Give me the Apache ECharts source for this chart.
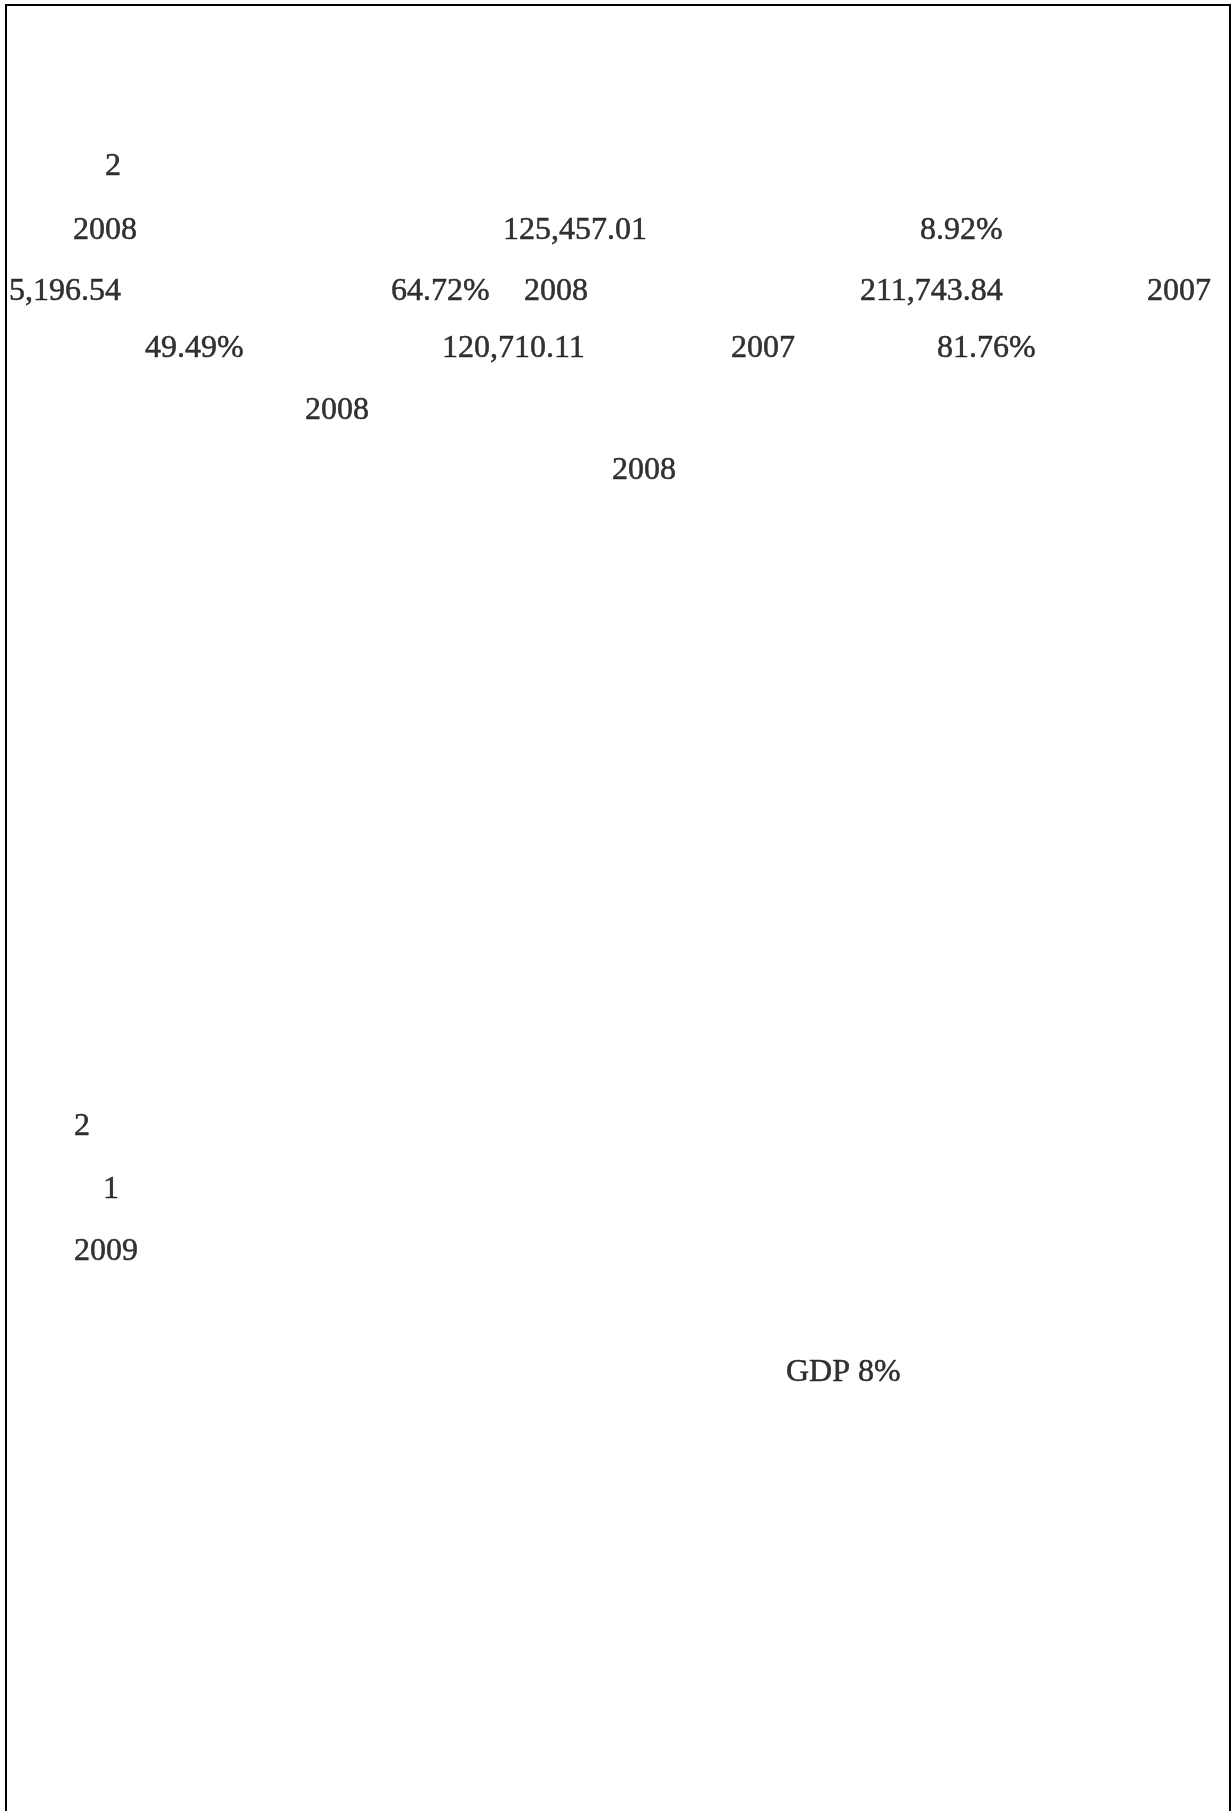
<!DOCTYPE html>
<html>
<head>
<meta charset="utf-8">
<script src="https://cdn.jsdelivr.net/npm/echarts@6/dist/echarts.min.js"></script>
<style>
html, body { margin: 0; padding: 0; background: #fff; }
#main { width: 1231px; height: 1811px; }
</style>
</head>
<body>
<div id="main"></div>
<script>
// Visible text tokens of the page, line by line
const line1 = ['2'];
const line2 = ['2008', '125,457.01', '8.92%'];
const line3 = ['5,196.54', '64.72%', '2008', '211,743.84', '2007'];
const line4 = ['49.49%', '120,710.11', '2007', '81.76%'];
const line5 = ['2008'];
const line6 = ['2008'];
const line7 = ['2'];
const line8 = ['1'];
const line9 = ['2009'];
const line10 = ['GDP 8%'];

const lines = [line1, line2, line3, line4, line5, line6, line7, line8, line9, line10];

// Layout (page coordinates): left edge of each token and the middle of each line
const lineX = [
  [105],
  [73, 503, 920],
  [9, 391, 524, 860, 1147],
  [145, 442, 731, 937],
  [305],
  [612],
  [74],
  [103],
  [74],
  [786]
];
const lineY = [167, 230.5, 291.5, 349, 411, 471, 1127, 1189.5, 1251.5, 1373];

const points = [];
lines.forEach(function (tokens, i) {
  tokens.forEach(function (t, j) {
    points.push([lineX[i][j], lineY[i], t]);
  });
});

const chart = echarts.init(document.getElementById('main'), null, { renderer: 'canvas' });
chart.setOption({
  animation: false,
  backgroundColor: '#ffffff',
  grid: {
    show: true,
    outerBoundsMode: 'none',
    containLabel: false,
    left: 6,
    top: 5,
    right: 1,
    bottom: -20,
    borderColor: '#000000',
    borderWidth: 2,
    backgroundColor: 'transparent'
  },
  xAxis: { type: 'value', min: 6, max: 1230, show: false },
  yAxis: { type: 'value', min: 5, max: 1831, inverse: true, show: false },
  series: [{
    type: 'scatter',
    silent: true,
    symbolSize: 0,
    data: points,
    label: {
      show: true,
      position: 'right',
      distance: 0,
      align: 'left',
      verticalAlign: 'middle',
      color: '#000000',
      textBorderColor: '#000000',
      textBorderWidth: 0.5,
      fontFamily: '"Liberation Serif", "Times New Roman", serif',
      fontSize: 32,
      formatter: function (p) { return p.value[2]; }
    }
  }]
});
</script>
</body>
</html>
